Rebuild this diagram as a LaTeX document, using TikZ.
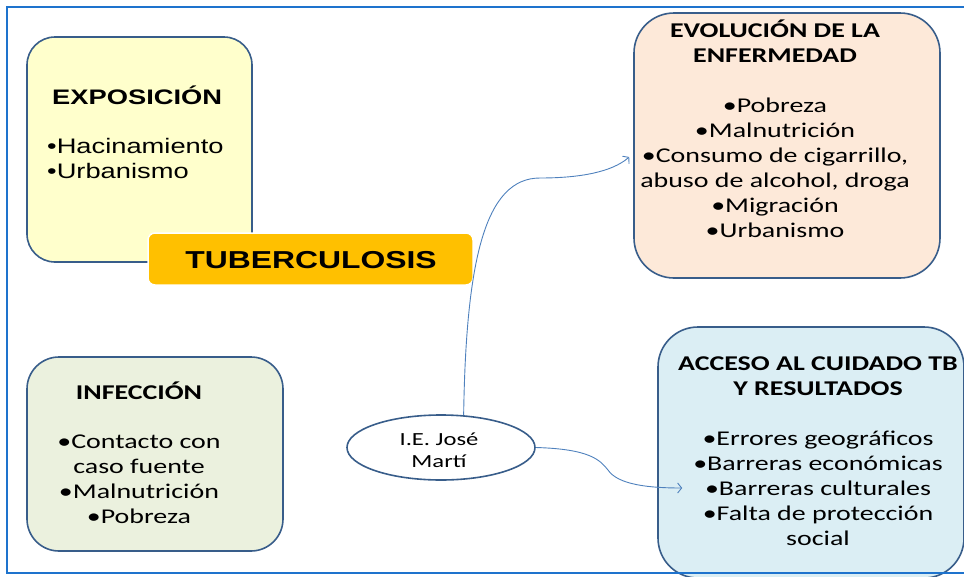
\documentclass[tikz,border=0pt]{standalone}
\usepackage{fontspec}
\setmainfont{Carlito}[FakeStretch=1.33]
\newfontfamily\arialf{Liberation Sans}[FakeStretch=1.3]
\usetikzlibrary{shapes.geometric,arrows.meta}
\definecolor{bordc}{RGB}{56,93,138}
\definecolor{framec}{RGB}{30,115,205}
\definecolor{arrc}{RGB}{79,129,189}
\definecolor{yellowf}{RGB}{255,255,204}
\definecolor{peachf}{RGB}{253,233,217}
\definecolor{bluef}{RGB}{219,238,244}
\definecolor{greenf}{RGB}{235,241,222}
\definecolor{orangef}{RGB}{255,192,0}
\tikzset{
  box/.style={draw=bordc, line width=1.6pt, inner sep=0pt},
  txt/.style={inner sep=0pt, align=center, font=\fontsize{21}{25}\selectfont},
  conn/.style={draw=arrc, line width=0.9pt, -{Straight Barb[length=4pt,width=10pt]}},
  frame/.style={draw=framec, line width=2.5pt}
}
\begin{document}
\begin{tikzpicture}[x=1pt,y=-1pt]
\useasboundingbox (0,0) rectangle (964,576);
% boxes
\node[box, fill=yellowf, rounded corners=28pt, minimum width=225pt, minimum height=225pt] (exp) at (139.5,149.5) {};
\node[box, fill=peachf, rounded corners=40pt, minimum width=306pt, minimum height=265pt] (evo) at (787,145.5) {};
\node[box, fill=bluef, rounded corners=40pt, minimum width=306pt, minimum height=251pt] (acc) at (811,452.5) {};
\node[box, fill=greenf, rounded corners=32pt, minimum width=256pt, minimum height=194pt] (inf) at (155,454) {};
\node[draw=white, line width=1.5pt, fill=orangef, rounded corners=7pt, minimum width=325pt, minimum height=52pt, inner sep=0pt] (tub) at (310.5,259) {};
\node[ellipse, draw=bordc, line width=1.6pt, fill=white, minimum width=188pt, minimum height=65pt, inner sep=0pt] (ie) at (441,447.5) {};
% texts (anchor base = baseline of the last line)
\node[inner sep=0pt, anchor=base west, font=\arialf\bfseries\fontsize{21}{25}\selectfont] (exph) at (52,104) {EXPOSICIÓN};
\node[inner sep=0pt, anchor=base west, align=left, font=\arialf\fontsize{21}{25}\selectfont] (expi) at (47,178) {•Hacinamiento\\•Urbanismo};
\node[inner sep=0pt, anchor=base, font=\arialf\bfseries\fontsize{24.5}{30}\selectfont] (tubt) at (311,268) {TUBERCULOSIS};
\node[txt, anchor=base] (evot) at (775,237) {\textbf{EVOLUCIÓN DE LA}\\\textbf{ENFERMEDAD}\\[25pt]•Pobreza\\•Malnutrición\\•Consumo de cigarrillo,\\abuso de alcohol, droga\\•Migración\\•Urbanismo};
\node[txt, anchor=base] (acct) at (818,545) {\textbf{ACCESO AL CUIDADO TB}\\\textbf{Y RESULTADOS}\\[25pt]•Errores geográficos\\•Barreras económicas\\•Barreras culturales\\•Falta de protección\\social};
\node[txt, anchor=base] (inft) at (139,523.5) {\textbf{INFECCIÓN}\\[24.5pt]•Contacto con\\caso fuente\\•Malnutrición\\•Pobreza};
\node[inner sep=0pt, anchor=base, align=center, font=\fontsize{18.5}{22}\selectfont] (iet) at (439,467) {I.E. José\\Martí};
% connectors
\draw[conn] (ie.55) .. controls (466,260) and (485,178) .. (540,178) .. controls (580,178) and (612,172) .. ([shift={(-4,11.5)}]evo.west);
\draw[conn] (ie.east) .. controls (590,449) and (600,460) .. (608,470) .. controls (618,485) and (650,488) .. ([shift={(25,35.5)}]acc.west);
% frame
\draw[frame] (7,7) rectangle (980,573);
\end{tikzpicture}
\end{document}
